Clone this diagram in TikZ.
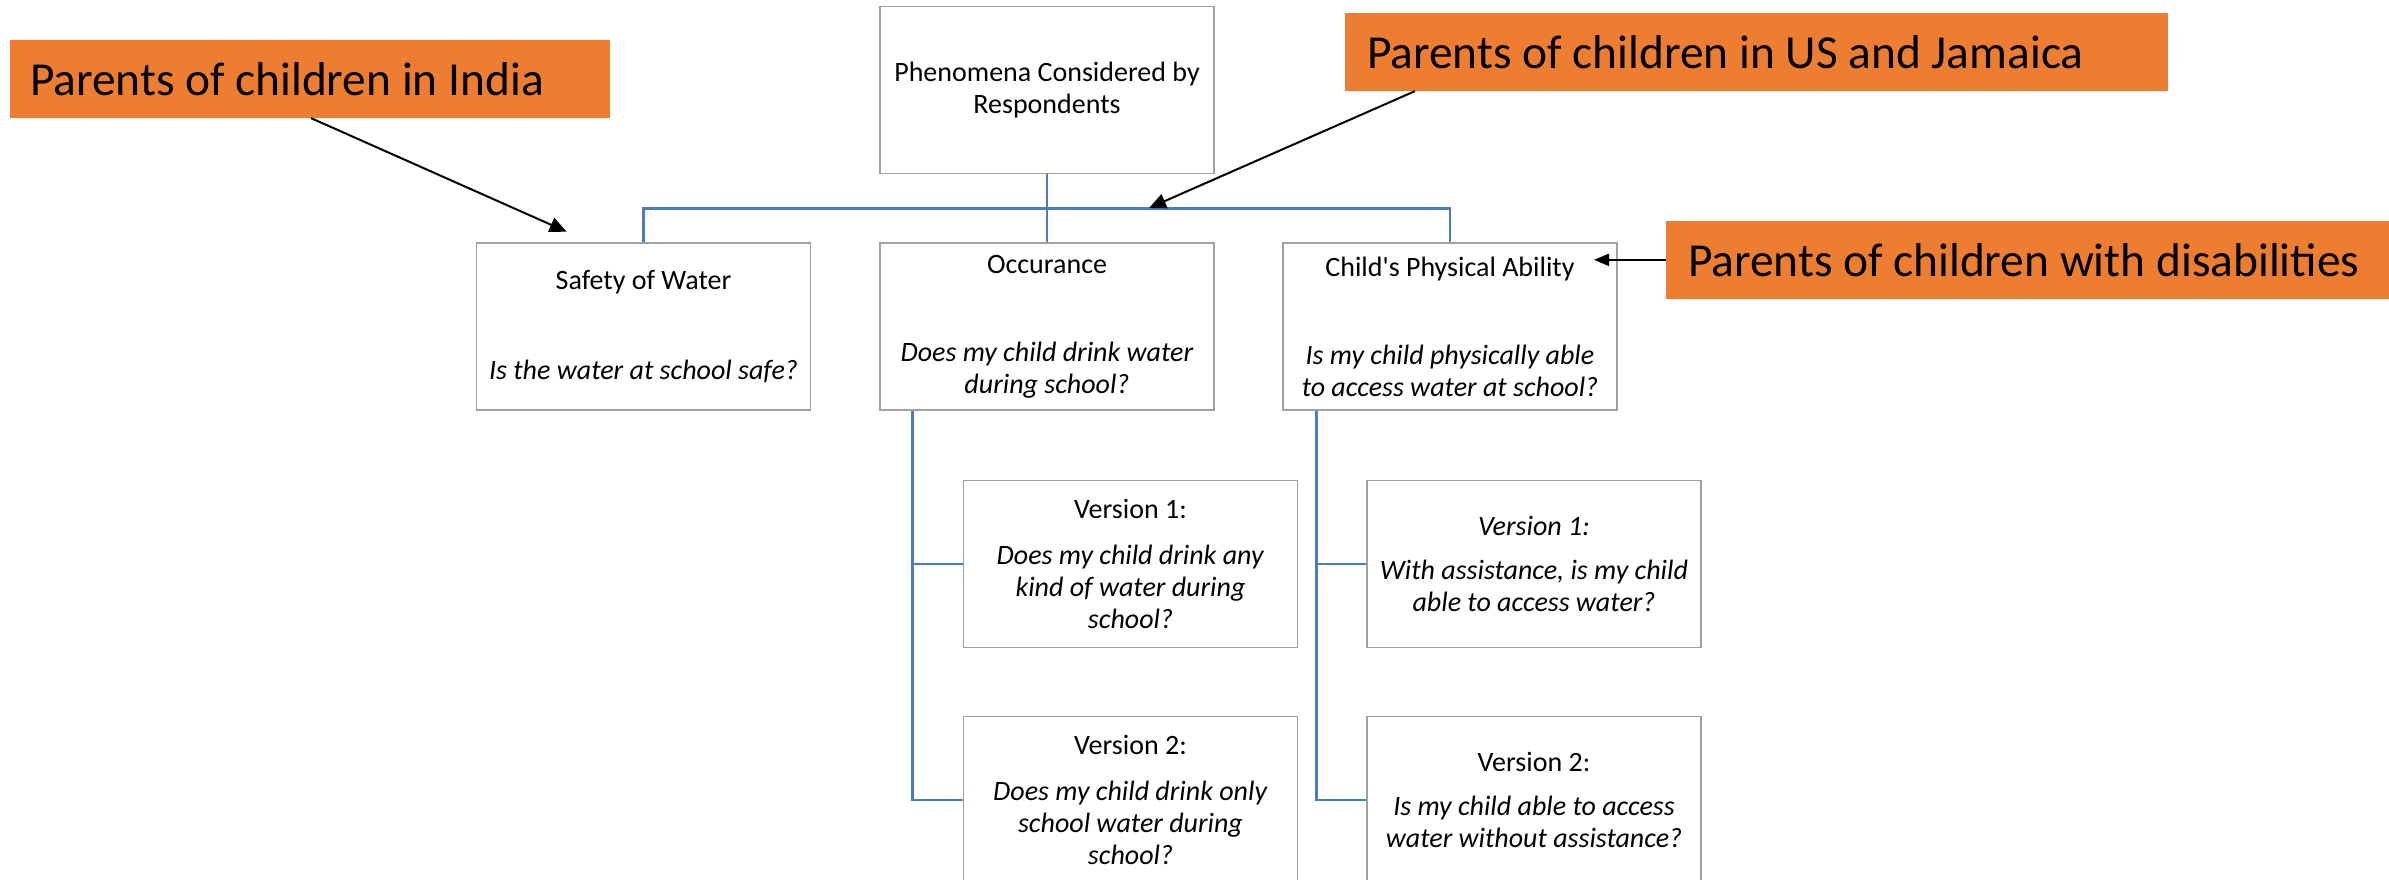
\documentclass[tikz,border=0pt]{standalone}
\usepackage{fontspec}
\setmainfont{Carlito}[Ligatures=TeXOff]
\usetikzlibrary{arrows.meta}
\definecolor{calloutorange}{RGB}{237,125,49}
\definecolor{treeblue}{RGB}{74,126,187}
\definecolor{boxgray}{RGB}{160,160,160}
\tikzset{
  qbox/.style={draw=boxgray, line width=0.75pt, fill=white, inner sep=0pt,
    minimum width=167pt, minimum height=83.3pt, align=center,
    font=\fontsize{14}{16}\selectfont},
  callout/.style={fill=calloutorange, inner ysep=0pt, align=flush left,
    font=\fontsize{23.7}{28}\selectfont, anchor=west},
  treeline/.style={draw=treeblue, line width=1.3pt},
  pointer/.style={draw=black, line width=1pt}
}
\begin{document}
\begin{tikzpicture}[x=0.5pt, y=-0.5pt]
\useasboundingbox (0,0) rectangle (2389,879);
\clip (0,0) rectangle (2389,879);

% question boxes
\node[qbox] (top) at (1047,90) {Phenomena Considered by\\Respondents};
\node[qbox] (safety) at (643.5,326.5) {Safety of Water\\[29pt]\textit{Is the water at school safe?}};
\node[qbox] (occ) at (1047,326.5) {Occurance\\[28pt]\textit{Does my child drink water}\\\textit{during school?}};
\node[qbox] (child) at (1450,326.5) {Child's Physical Ability\\[28pt]\textit{Is my child physically able}\\\textit{to access water at school?}};
\node[qbox] (v1L) at (1130.5,564) {Version 1:\\[7pt]\textit{Does my child drink any}\\\textit{kind of water during}\\\textit{school?}};
\node[qbox] (v2L) at (1130.5,800) {Version 2:\\[7pt]\textit{Does my child drink only}\\\textit{school water during}\\\textit{school?}};
\node[qbox] (v1R) at (1534,564) {\textit{Version 1:}\\[6pt]\textit{With assistance, is my child}\\\textit{able to access water?}};
\node[qbox] (v2R) at (1534,800) {Version 2:\\[6pt]\textit{Is my child able to access}\\\textit{water without assistance?}};

% tree connectors
\coordinate (bus) at (1047,208.3);
\draw[treeline] (top.south) -- (occ.north);
\draw[treeline] (safety.north) |- (bus) -| (child.north);
\draw[treeline] ([xshift=16.65pt]occ.south west) |- (v1L.west);
\draw[treeline] ([xshift=16.65pt]occ.south west) |- (v2L.west);
\draw[treeline] ([xshift=17pt]child.south west) |- (v1R.west);
\draw[treeline] ([xshift=17pt]child.south west) |- (v2R.west);

% respondent groups
\node[callout, minimum height=38.85pt, inner xsep=10.15pt, text width=279.7pt] (india) at (9.3,78.85) {Parents of children in India};
\node[callout, minimum height=38.7pt, inner xsep=11pt, text width=389.6pt] (us) at (1344.8,52) {Parents of children in US and Jamaica};
\node[callout, minimum height=38.85pt, inner xsep=10.8pt, text width=360pt] (dis) at (1666,259.85) {Parents of children with disabilities};

% pointers to the phenomena
\coordinate (indiaTip) at (566.7,231.7);
\coordinate (usTip) at (1149,208);
\coordinate (disTip) at (1594,259.85);
\draw[pointer, -{Triangle[length=8.5pt,width=7.5pt]}] ([xshift=150.85pt]india.south west) -- (indiaTip);
\draw[pointer, -{Triangle[length=8.5pt,width=7.5pt]}] ([xshift=35.1pt]us.south west) -- (usTip);
\draw[pointer, -{Triangle[length=7.5pt,width=6pt]}] (dis.west) -- (disTip);
\end{tikzpicture}
\end{document}
